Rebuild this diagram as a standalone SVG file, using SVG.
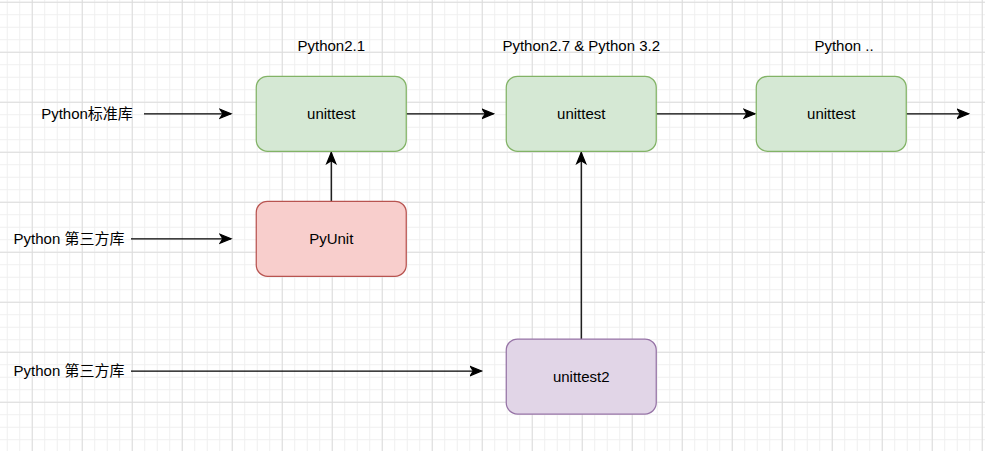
<svg xmlns="http://www.w3.org/2000/svg" width="985" height="451" viewBox="0 0 985 451">
<defs>
<pattern id="minor" x="6.75" y="1.75" width="12.5" height="12.5" patternUnits="userSpaceOnUse">
<path d="M0.5 0 V12.5 M0 0.5 H12.5" stroke="#efefef" stroke-width="1" fill="none"/>
</pattern>
<pattern id="major" x="31.75" y="1.75" width="50" height="50" patternUnits="userSpaceOnUse">
<path d="M0.5 0 V50 M0 0.5 H50" stroke="#dcdcdc" stroke-width="1" fill="none"/>
</pattern>
<marker id="arr" markerUnits="userSpaceOnUse" markerWidth="14" markerHeight="12" viewBox="0 0 14 12" refX="12" refY="6" orient="auto">
<path d="M1 1.5 L12 6 L1 10.5 L3.8 6 Z" fill="#000" stroke="#000" stroke-width="1.25"/>
</marker>
<style>
.t{font-family:"Liberation Sans","Noto Sans CJK SC",Arial,sans-serif;font-size:15px;fill:#000;text-anchor:middle;dominant-baseline:central}
.e{stroke:#000;stroke-width:1.25;fill:none;marker-end:url(#arr)}
.g{fill:#d5e8d4;stroke:#82b366;stroke-width:1.25}
.r{fill:#f8cecc;stroke:#b85450;stroke-width:1.25}
.p{fill:#e1d5e7;stroke:#9673a6;stroke-width:1.25}
</style>
</defs>
<rect width="985" height="451" fill="#ffffff"/>
<rect width="985" height="451" fill="url(#minor)"/>
<rect width="985" height="451" fill="url(#major)"/>

<g id="connectors">
<path class="e" d="M144 113.75 H231"/>
<path class="e" d="M406.25 113.75 H493.5"/>
<path class="e" d="M656.25 113.75 H755"/>
<path class="e" d="M906.25 113.75 H968.5"/>
<path class="e" d="M331.25 201.25 V152.5"/>
<path class="e" d="M581.25 339 V152.5"/>
<path class="e" d="M131 238.75 H231"/>
<path class="e" d="M131 371 H481.5"/>
</g>

<g id="label-std"><text class="t" x="87" y="113">Python标准库</text></g>
<g id="label-third1"><text class="t" x="69" y="238">Python 第三方库</text></g>
<g id="label-third2"><text class="t" x="69" y="370">Python 第三方库</text></g>
<g id="label-v21"><text class="t" x="331.25" y="45">Python2.1</text></g>
<g id="label-v27"><text class="t" x="581.25" y="45">Python2.7 &amp; Python 3.2</text></g>
<g id="label-vn"><text class="t" x="844" y="45">Python ..</text></g>

<g id="unittest1"><rect class="g" x="256.25" y="76.25" width="150" height="75" rx="11.25"/><text class="t" x="331.25" y="113">unittest</text></g>
<g id="unittest2-std"><rect class="g" x="506.25" y="76.25" width="150" height="75" rx="11.25"/><text class="t" x="581.25" y="113">unittest</text></g>
<g id="unittest3"><rect class="g" x="756.25" y="76.25" width="150" height="75" rx="11.25"/><text class="t" x="831.25" y="113">unittest</text></g>
<g id="pyunit"><rect class="r" x="256.25" y="201.25" width="150" height="75" rx="11.25"/><text class="t" x="331.25" y="238">PyUnit</text></g>
<g id="unittest2"><rect class="p" x="506.25" y="339" width="150" height="75" rx="11.25"/><text class="t" x="581.25" y="376">unittest2</text></g>
</svg>
